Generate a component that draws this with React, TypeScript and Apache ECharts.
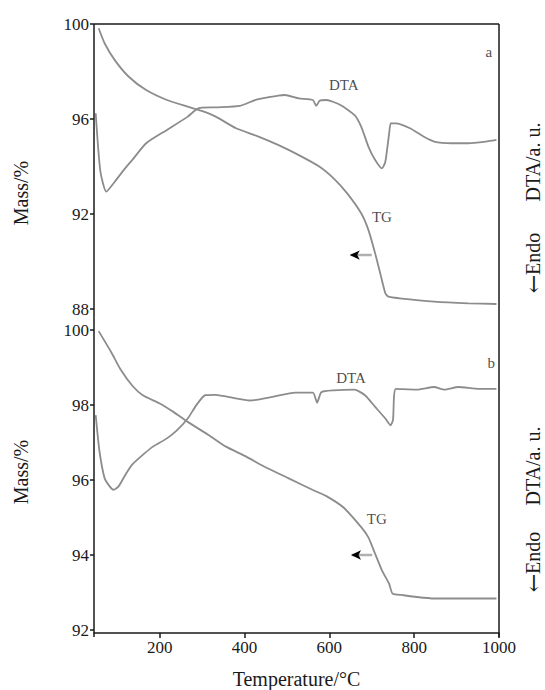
import React, { useEffect, useRef } from "react";
import * as echarts from "echarts";

// ---- Data ----
const xTicks = [200, 400, 600, 800, 1000];

// Panel a
const aTgT = [56, 70, 94, 127, 168, 217, 266, 299, 332, 380, 430, 479, 528, 577, 610, 642, 675, 692, 708, 720, 732, 739, 765, 847, 928, 994];
const aTgV = [99.82, 99.19, 98.48, 97.78, 97.22, 96.8, 96.52, 96.34, 96.1, 95.61, 95.28, 94.91, 94.48, 93.99, 93.5, 92.87, 92.03, 91.33, 90.34, 89.5, 88.66, 88.52, 88.45, 88.31, 88.24, 88.21];
const aDtaT = [49, 60, 74, 94, 115, 135, 168, 217, 266, 291, 332, 389, 430, 479, 495, 528, 561, 569, 577, 593, 626, 659, 675, 692, 708, 724, 732, 741, 745, 757, 790, 822, 847, 888, 928, 969, 994];
const aDtaV = [96.24, 93.8, 92.94, 93.36, 93.85, 94.27, 94.98, 95.54, 96.1, 96.45, 96.49, 96.55, 96.83, 96.98, 97.01, 96.87, 96.8, 96.55, 96.77, 96.8, 96.59, 96.17, 95.68, 94.84, 94.27, 93.92, 94.2, 95.4, 95.82, 95.82, 95.61, 95.26, 95.05, 94.98, 94.98, 95.05, 95.12];

// Panel b
const bTgT = [56, 86, 107, 135, 160, 200, 233, 266, 315, 356, 403, 446, 503, 560, 593, 634, 676, 692, 708, 724, 741, 749, 773, 806, 847, 994];
const bTgV = [99.97, 99.4, 98.96, 98.52, 98.26, 98.04, 97.81, 97.55, 97.2, 96.89, 96.63, 96.36, 96.05, 95.74, 95.57, 95.26, 94.73, 94.47, 94.03, 93.59, 93.23, 92.97, 92.93, 92.88, 92.84, 92.84];
const bDtaT = [49, 58, 70, 82, 91, 103, 119, 135, 160, 184, 217, 241, 266, 286, 307, 332, 364, 413, 463, 520, 561, 569, 571, 581, 610, 659, 684, 708, 732, 744, 750, 757, 806, 847, 871, 904, 953, 994];
const bDtaV = [97.73, 96.76, 96.05, 95.83, 95.74, 95.83, 96.14, 96.41, 96.67, 96.89, 97.11, 97.33, 97.64, 97.99, 98.26, 98.27, 98.21, 98.12, 98.21, 98.33, 98.33, 98.12, 98.06, 98.34, 98.39, 98.41, 98.26, 97.95, 97.64, 97.46, 97.6, 98.43, 98.41, 98.48, 98.41, 98.48, 98.43, 98.43];

// Annotations: [x, y, text]
const aLabels: [number, number, string][] = [[976, 98.84, "a"], [634, 97.43, "DTA"], [724, 91.86, "TG"]];
const bLabels: [number, number, string][] = [[982, 99.13, "b"], [651, 98.71, "DTA"], [712, 94.95, "TG"]];
// Arrows: [tailX, headX, y]
const aArrow = [700, 650, 90.27];
const bArrow = [701, 653, 94.0];

const FONT = "Liberation Serif";
const LINE = "#8c8c8c";
const INK = "#1a1a1a";

const zip = (xs: number[], ys: number[]) => xs.map((x, i) => [x, ys[i]]);

export default function App() {
  const ref = useRef<HTMLDivElement>(null);
  useEffect(() => {
    if (!ref.current) return;
    const chart = echarts.init(ref.current, null, { renderer: "svg" });
    const L = 94, R = 499, TOP = 24, BOT = 637;
    const lineSeries = (name: string, idx: number, data: number[][], yIdx: number) => ({
      name,
      type: "line",
      xAxisIndex: idx,
      yAxisIndex: yIdx,
      data,
      showSymbol: false,
      symbol: "none",
      smooth: 0.2,
      lineStyle: { color: LINE, width: 1.8 },
      z: 2,
    });
    const labelSeries = (idx: number, labels: [number, number, string][]) => ({
      type: "scatter",
      xAxisIndex: idx,
      yAxisIndex: idx * 2,
      symbolSize: 0,
      data: labels.map((l) => ({ value: [l[0], l[1]], name: l[2] })),
      label: {
        show: true,
        position: "inside",
        formatter: (p: any) => p.name,
        fontFamily: FONT,
        fontSize: 15,
        color: INK,
      },
      silent: true,
    });
    const arrowSeries = (idx: number, arr: number[]) => ({
      type: "line",
      xAxisIndex: idx,
      yAxisIndex: idx * 2,
      data: [[arr[0], arr[2]], [arr[1], arr[2]]],
      symbol: "none",
      lineStyle: { color: "#b0b0b0", width: 2.5 },
      markPoint: {
        symbol: "arrow",
        symbolSize: [7, 10],
        symbolRotate: 90,
        itemStyle: { color: "#000" },
        label: { show: false },
        data: [{ coord: [arr[1] - 2, arr[2]] }],
      },
      silent: true,
    });
    const yAx = (grid: number, min: number, max: number, interval: number, show: boolean) => ({
      type: "value",
      gridIndex: grid,
      min,
      max,
      interval,
      show,
      axisLine: { show: false },
      axisTick: { show: true, length: 4, lineStyle: { color: INK, width: 1.5 } },
      axisLabel: { show: true, margin: 5, fontFamily: FONT, fontSize: 17, color: INK },
      splitLine: { show: false },
    });
    const vText = (x: number, y: number, text: string) => ({
      type: "text",
      x,
      y,
      rotation: Math.PI / 2,
      style: {
        text,
        fontFamily: FONT,
        fontSize: 20,
        fill: INK,
        align: "center",
        verticalAlign: "middle",
        rich: { ar: { fontFamily: "DejaVu Serif", fontSize: 22, fill: INK } },
      },
    });
    chart.setOption({
      animation: false,
      backgroundColor: "#fff",
      grid: [
        { left: L, top: TOP, width: R - L, height: 285 },
        { left: L, top: 330, width: R - L, height: 304 },
      ],
      xAxis: [
        { type: "value", gridIndex: 0, min: 45, max: 1000, show: false },
        {
          type: "value",
          gridIndex: 1,
          min: 45,
          max: 1000,
          offset: 3,
          axisLine: { show: true, lineStyle: { color: INK, width: 1.5 } },
          axisTick: { show: true, length: 5, customValues: xTicks, lineStyle: { color: INK, width: 1.5 } },
          axisLabel: {
            show: true,
            margin: 6,
            customValues: xTicks,
            formatter: (v: number) => String(v),
            fontFamily: FONT,
            fontSize: 17,
            color: INK,
          },
          splitLine: { show: false },
          name: "Temperature/°C",
          nameLocation: "middle",
          nameGap: 36,
          nameTextStyle: { fontFamily: FONT, fontSize: 20, color: INK },
        },
      ],
      yAxis: [
        yAx(0, 88, 100, 4, true),
        yAx(0, 88, 100, 4, false),
        yAx(1, 92, 100, 2, true),
        yAx(1, 92, 100, 2, false),
      ],
      series: [
        lineSeries("TG a", 0, zip(aTgT, aTgV), 0),
        lineSeries("DTA a", 0, zip(aDtaT, aDtaV), 1),
        lineSeries("TG b", 1, zip(bTgT, bTgV), 2),
        lineSeries("DTA b", 1, zip(bDtaT, bDtaV), 3),
        labelSeries(0, aLabels),
        labelSeries(1, bLabels),
        arrowSeries(0, aArrow),
        arrowSeries(1, bArrow),
      ],
      graphic: [
        { type: "line", shape: { x1: L, y1: TOP, x2: L, y2: BOT }, style: { stroke: INK, lineWidth: 1.5 }, z: 10 },
        { type: "line", shape: { x1: R, y1: TOP, x2: R, y2: BOT }, style: { stroke: INK, lineWidth: 1.5 }, z: 10 },
        { type: "line", shape: { x1: L, y1: TOP, x2: R, y2: TOP }, style: { stroke: INK, lineWidth: 1.5 }, z: 10 },
        vText(21, 193, "Mass/%"),
        vText(21, 472, "Mass/%"),
        vText(533, 162, "DTA/a. u."),
        vText(533, 263, "{ar|←}Endo"),
        vText(533, 466, "DTA/a. u."),
        vText(533, 562, "{ar|←}Endo"),
      ],
    });
    return () => chart.dispose();
  }, []);
  return <div ref={ref} style={{ position: "absolute", left: 0, top: 0, width: 545, height: 690 }} />;
}
